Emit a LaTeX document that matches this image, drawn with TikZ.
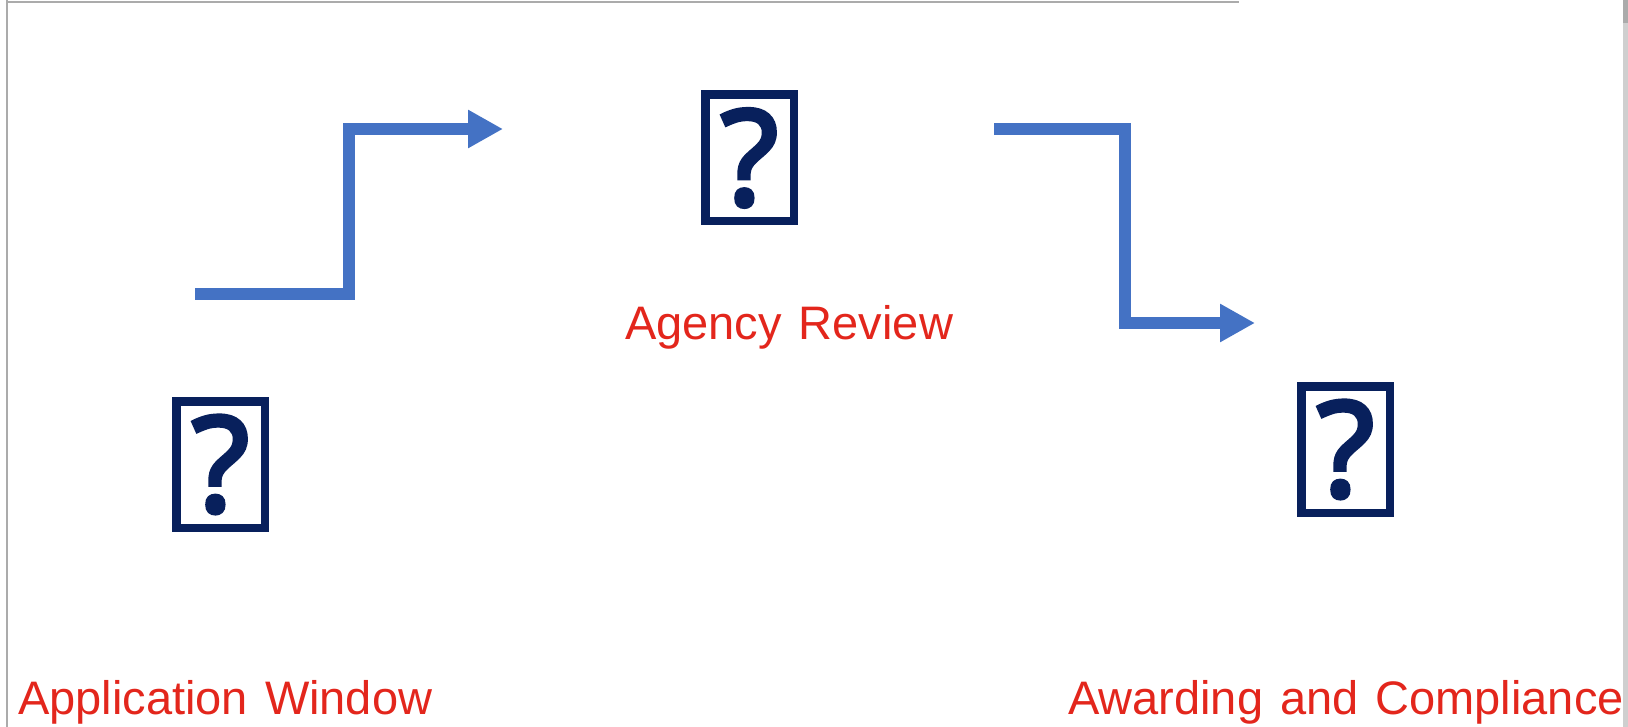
\documentclass[tikz,border=0pt]{standalone}
\usepackage{fontspec}
\setmainfont{Liberation Sans}[WordSpace=1.3]
\newfontfamily\qfont{Noto Sans}[AutoFakeBold=3]
\usetikzlibrary{arrows.meta}
\definecolor{flowblue}{HTML}{4472C4}
\definecolor{iconnavy}{HTML}{08205C}
\definecolor{labelred}{HTML}{E3261C}
\definecolor{framegray}{HTML}{ABABAB}
\definecolor{stripgray}{HTML}{CFCFCF}
\begin{document}
\begin{tikzpicture}[x=1pt,y=-1pt,
  flow/.style={draw=flowblue, line width=12pt, line join=miter, -{Triangle[length=35pt,width=36pt]}},
  icon/.style={draw=iconnavy, line width=8.5pt, inner sep=0pt, minimum width=88.5pt, minimum height=126.5pt, text=iconnavy, font=\qfont\bfseries\fontsize{133}{133}\selectfont},
  stagelabel/.style={text=labelred, inner sep=0pt, anchor=base west, font=\fontsize{47}{56}\selectfont}]
\useasboundingbox (0,0) rectangle (1628,727);
\fill[white] (0,0) rectangle (1628,727);
% frame remnants
\draw[framegray, line width=2pt] (7,0) -- (7,727);
\draw[framegray, line width=2pt] (6,2) -- (1239,2);
\fill[stripgray] (1623,0) rectangle (1628,727);
\fill[framegray] (1623,0) rectangle (1628,23);
% icons
\node[icon] (appicon) at (220.5,464.5) {?};
\node[icon] (revicon) at (749.5,158) {?};
\node[icon] (awdicon) at (1345.5,449.5) {?};
% labels
\node[stagelabel] (applbl) at (18,714) {Application Window};
\node[stagelabel] (revlbl) at (625,340) {Agency Review};
\node[stagelabel] (awdlbl) at (1068,714) {Awarding and Compliance};
% connectors
\coordinate (f1s) at (195,294);
\coordinate (f1a) at (349,294);
\coordinate (f1b) at (349,129);
\coordinate (f1t) at (503,129);
\coordinate (f2s) at (994,129);
\coordinate (f2a) at (1125,129);
\coordinate (f2b) at (1125,323);
\coordinate (f2t) at (1255,323);
\draw[flow] (f1s) -- (f1a) -- (f1b) -- (f1t);
\draw[flow] (f2s) -- (f2a) -- (f2b) -- (f2t);
\end{tikzpicture}
\end{document}
